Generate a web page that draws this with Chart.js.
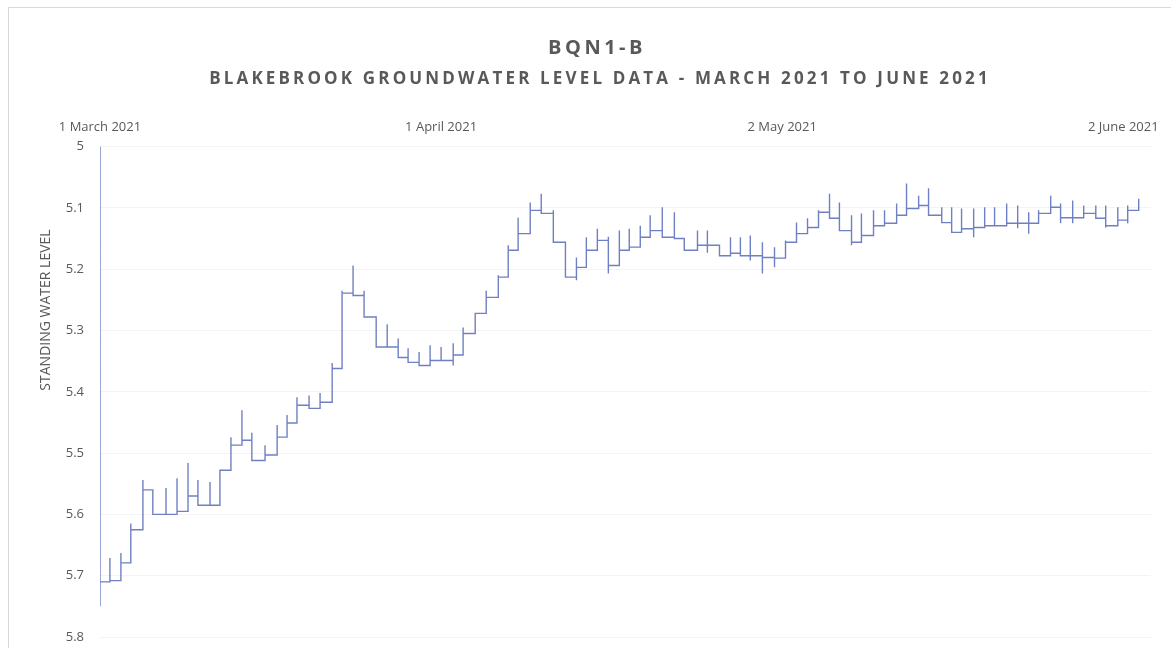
<!DOCTYPE html>
<html>
<head>
<meta charset="utf-8">
<script src="https://cdn.jsdelivr.net/npm/chart.js@4.4.0/dist/chart.umd.min.js"></script>
<style>
  html, body { margin: 0; padding: 0; background: #fff; }
  #wrap { position: relative; width: 1171px; height: 648px; overflow: hidden; }
  #frame { position: absolute; left: 8px; top: 7px; width: 1200px; height: 700px;
           border-left: 1px solid #d9d9d9; border-top: 1px solid #d9d9d9; }
  #chart { position: absolute; left: 0; top: 0; }
</style>
</head>
<body>
<div id="wrap">
  <div id="frame"></div>
  <canvas id="chart" width="1171" height="648"></canvas>
</div>
<script>
// titles
var chartTitle = 'BQN1-B';
var chartSubtitle = 'BLAKEBROOK GROUNDWATER LEVEL DATA - MARCH 2021 TO JUNE 2021';
var yTitle = 'STANDING WATER LEVEL';

// top axis date labels (days since 1 March 2021)
var dateTickDays = [0, 31, 62, 93];
var dateTickLabels = ['1 March 2021', '1 April 2021', '2 May 2021', '2 June 2021'];

// logger readings: day of each step, level after it,
// and the short spikes recorded at that step (null when there is none)
var stepDays = [
  0, 0.9, 1.9, 2.8, 3.9, 4.8, 6.0, 7.0, 8.0, 8.9,
  10.0, 10.9, 11.9, 12.9, 13.8, 15.0, 16.1, 17.0, 17.9, 19.0,
  20.0, 21.1, 22.0, 23.0, 24.0, 25.1, 26.1, 27.1, 28.0, 29.0,
  30.0, 31.0, 32.1, 33.0, 34.1, 35.1, 36.2, 37.1, 38.0, 39.1,
  40.1, 41.2, 42.3, 43.3, 44.2, 45.2, 46.2, 47.2, 48.1, 49.1,
  50.0, 51.1, 52.2, 53.1, 54.3, 55.2, 56.3, 57.3, 58.2, 59.1,
  60.2, 61.3, 62.3, 63.3, 64.3, 65.3, 66.3, 67.2, 68.3, 69.2,
  70.3, 71.3, 72.4, 73.3, 74.4, 75.3, 76.5, 77.4, 78.3, 79.4,
  80.4, 81.3, 82.4, 83.4, 84.4, 85.3, 86.4, 87.3, 88.4, 89.4,
  90.5, 91.4, 92.5, 93.4, 94.4
];
var stepLevels = [
  5.710, 5.708, 5.679, 5.625, 5.560, 5.600, 5.600, 5.595, 5.570, 5.585,
  5.585, 5.528, 5.487, 5.479, 5.512, 5.503, 5.474, 5.451, 5.422, 5.427,
  5.417, 5.362, 5.239, 5.243, 5.278, 5.327, 5.327, 5.344, 5.352, 5.357,
  5.349, 5.349, 5.340, 5.305, 5.272, 5.246, 5.213, 5.169, 5.142, 5.104,
  5.109, 5.156, 5.213, 5.197, 5.169, 5.153, 5.194, 5.169, 5.164, 5.148,
  5.137, 5.148, 5.150, 5.169, 5.161, 5.161, 5.178, 5.174, 5.178, 5.178,
  5.181, 5.182, 5.156, 5.142, 5.132, 5.107, 5.117, 5.137, 5.156, 5.145,
  5.129, 5.125, 5.112, 5.101, 5.096, 5.112, 5.124, 5.140, 5.134, 5.132,
  5.129, 5.129, 5.125, 5.125, 5.125, 5.109, 5.099, 5.116, 5.116, 5.109,
  5.117, 5.129, 5.120, 5.104, 5.104
];
var spikeTops = [
  5.000, 5.671, 5.663, 5.615, 5.544, null, 5.557, 5.541, 5.516, 5.544,
  5.547, null, 5.474, 5.430, 5.467, 5.487, 5.454, 5.438, 5.409, 5.406,
  5.402, 5.353, 5.235, 5.194, 5.235, null, 5.290, 5.313, 5.329, 5.335,
  5.324, 5.327, 5.321, 5.295, null, 5.235, 5.210, 5.161, 5.116, 5.091,
  5.077, 5.104, null, 5.181, 5.148, 5.134, 5.147, 5.137, 5.134, 5.129,
  5.112, 5.099, 5.107, null, 5.137, 5.137, null, 5.148, 5.148, 5.145,
  5.156, 5.164, 5.153, 5.124, 5.117, 5.104, 5.077, 5.091, 5.112, 5.109,
  5.104, 5.104, 5.093, 5.060, 5.080, 5.068, 5.099, 5.099, 5.101, 5.101,
  5.099, 5.099, 5.093, 5.096, 5.107, 5.104, 5.080, 5.093, 5.088, 5.096,
  5.096, 5.096, 5.099, 5.096, 5.085
];
var spikeLows = [
  5.750, null, null, null, null, null, null, null, null, null,
  null, null, null, null, null, null, null, null, null, null,
  null, null, null, null, null, null, null, null, null, null,
  null, null, 5.357, null, null, null, null, null, null, null,
  null, null, null, 5.218, null, null, 5.207, null, null, null,
  null, null, null, null, null, 5.173, null, null, null, 5.186,
  5.207, 5.197, null, null, null, null, null, null, 5.161, null,
  null, null, null, null, null, null, null, null, null, 5.148,
  null, null, null, 5.133, 5.142, null, null, 5.125, 5.125, null,
  null, 5.132, null, 5.125, null
];

// line points: spike first, then the level the logger settles at
var points = [];
stepDays.forEach(function(d, i) {
  if (spikeTops[i] !== null) points.push({ x: d, y: spikeTops[i] });
  if (spikeLows[i] !== null) points.push({ x: d, y: spikeLows[i] });
  points.push({ x: d, y: stepLevels[i] });
});

var textGrey = '#595959';

// draws the two heading lines and the rotated y title
var headings = {
  id: 'headings',
  afterDraw: function(chart) {
    var ctx = chart.ctx;
    ctx.save();
    ctx.fillStyle = textGrey;
    ctx.textAlign = 'center';
    ctx.textBaseline = 'middle';
    ctx.font = 'bold 20px "Open Sans"';
    ctx.letterSpacing = '3.5px';
    ctx.fillText(chartTitle, 597, 48);
    ctx.font = 'bold 17px "Open Sans"';
    ctx.letterSpacing = '3.15px';
    ctx.fillText(chartSubtitle, 600, 79);
    ctx.letterSpacing = '0px';
    ctx.font = '14px "Open Sans"';
    ctx.translate(46, 310);
    ctx.rotate(-Math.PI / 2);
    ctx.fillText(yTitle, 0, 0);
    ctx.restore();
  }
};

var ctx = document.getElementById('chart').getContext('2d');
var myChart = new Chart(ctx, {
  type: 'line',
  data: {
    datasets: [{
      label: chartTitle,
      data: points,
      stepped: true,
      borderColor: '#6f80c2',
      borderWidth: 1.4,
      pointRadius: 0,
      fill: false
    }]
  },
  options: {
    responsive: false,
    animation: false,
    layout: { padding: { left: 0, right: 14, top: 107, bottom: 11 } },
    plugins: {
      legend: { display: false },
      tooltip: { enabled: false }
    },
    scales: {
      x: {
        type: 'linear',
        position: 'top',
        min: 0,
        max: 95.5,
        grid: { display: false, drawTicks: false },
        border: { display: false },
        afterBuildTicks: function(axis) {
          axis.ticks = dateTickDays.map(function(v) { return { value: v }; });
        },
        ticks: {
          autoSkip: false,
          maxRotation: 0,
          padding: 12,
          color: textGrey,
          font: { family: 'Open Sans', size: 13 },
          callback: function(v) { return dateTickLabels[dateTickDays.indexOf(v)]; }
        }
      },
      y: {
        reverse: true,
        min: 5,
        max: 5.8,
        afterFit: function(scale) {
          scale.width = 100;
          scale.paddingTop = 0;
          scale.paddingBottom = 0;
        },
        grid: { color: '#f3f3f3', drawTicks: false },
        border: { display: false },
        ticks: {
          stepSize: 0.1,
          padding: 16,
          color: textGrey,
          font: { family: 'Open Sans', size: 13 },
          callback: function(v) { return String(Math.round(v * 10) / 10); }
        }
      }
    }
  },
  plugins: [headings]
});
</script>
</body>
</html>
